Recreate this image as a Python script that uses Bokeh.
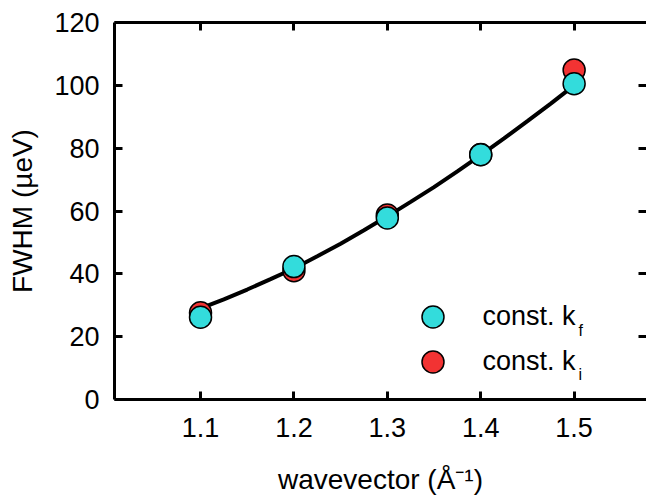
from bokeh.plotting import figure
from bokeh.models import (Range1d, FixedTicker, LinearAxis, Legend, LegendItem,
                          Label, ColumnDataSource, CustomJSTickFormatter)
from bokeh.embed import file_html
from bokeh.resources import INLINE

# ---- data ----
wavevector = [1.1, 1.2, 1.3, 1.4, 1.5]
fwhm_const_kf = [26.2, 42.3, 57.8, 77.9, 100.5]
fwhm_const_ki = [27.6, 41.0, 58.7, 78.0, 104.9]

fit_x = [1.100, 1.125, 1.150, 1.175, 1.200, 1.225, 1.250, 1.275, 1.300,
         1.325, 1.350, 1.375, 1.400, 1.425, 1.450, 1.475, 1.500]
fit_y = [29.0, 31.9, 35.0, 38.3, 41.7, 45.6, 49.6, 53.9, 58.3,
         62.9, 67.6, 72.6, 77.8, 83.1, 88.6, 94.2, 100.0]

x_ticks = [1.1, 1.2, 1.3, 1.4, 1.5]
y_ticks = [0, 20, 40, 60, 80, 100, 120]

FONT = "Arial"

p = figure(width=646, height=497,
           x_range=Range1d(1.0079, 1.0079 + 532 / 934.0),
           y_range=Range1d(0, 120),
           output_backend="svg", toolbar_location=None,
           min_border_left=114, min_border_top=22, min_border_right=0,
           min_border_bottom=98)
p.background_fill_color = "white"
p.border_fill_color = "white"
p.outline_line_color = None
p.xgrid.visible = False
p.ygrid.visible = False

def style_axis(ax, ticks):
    ax.ticker = FixedTicker(ticks=ticks)
    ax.axis_line_width = 3
    ax.axis_line_color = "black"
    ax.major_tick_line_width = 3
    ax.major_tick_line_color = "black"
    ax.major_tick_in = 8
    ax.major_tick_out = 0
    ax.minor_tick_line_color = None
    ax.major_label_text_font = FONT
    ax.major_label_text_font_size = "27px"
    ax.major_label_text_color = "black"
    ax.axis_label_text_font = FONT
    ax.axis_label_text_font_style = "normal"
    ax.axis_label_text_font_size = "28px"
    ax.axis_label_text_color = "black"

xa = p.xaxis[0]
ya = p.yaxis[0]
style_axis(xa, x_ticks)
style_axis(ya, y_ticks)
xa.axis_label = "wavevector (Å⁻¹)"
ya.axis_label = "FWHM (µeV)"
xa.major_label_standoff = 18
xa.axis_label_standoff = 24
ya.major_label_standoff = 15
ya.axis_label_standoff = 13

blank = CustomJSTickFormatter(code="return ''")
top = LinearAxis()
style_axis(top, x_ticks)
top.formatter = blank
top.major_label_standoff = 0
p.add_layout(top, "above")

right = LinearAxis()
style_axis(right, y_ticks)
right.formatter = blank
right.major_label_standoff = 0
right.axis_line_alpha = 0
p.add_layout(right, "right")

# fit curve
p.line(fit_x, fit_y, line_color="black", line_width=4)

src_ki = ColumnDataSource(dict(x=wavevector, y=fwhm_const_ki))
src_kf = ColumnDataSource(dict(x=wavevector, y=fwhm_const_kf))
r_ki = p.scatter("x", "y", source=src_ki, size=22, fill_color="#f23333",
                 line_color="black", line_width=1.5)
r_kf = p.scatter("x", "y", source=src_kf, size=22, fill_color="#33dcdc",
                 line_color="black", line_width=1.5)

def make_legend(renderer, loc):
    lg = Legend(items=[LegendItem(label="const. k", renderers=[renderer])],
                location=loc, glyph_width=55, glyph_height=55,
                label_standoff=23, padding=0, margin=0, spacing=0,
                border_line_color=None, background_fill_alpha=0,
                label_text_font=FONT, label_text_font_size="27px",
                label_text_color="black")
    p.add_layout(lg, "center")

make_legend(r_kf, (290.5, 55.5))
make_legend(r_ki, (290.5, 9.8))

for sub, yy in (("f", 69), ("i", 25)):
    p.add_layout(Label(x=464, y=yy, x_units="screen", y_units="screen",
                       text=sub, text_font=FONT, text_font_size="16px",
                       text_color="black", text_baseline="alphabetic"))

open("out.html", "w").write(file_html(p, INLINE))
